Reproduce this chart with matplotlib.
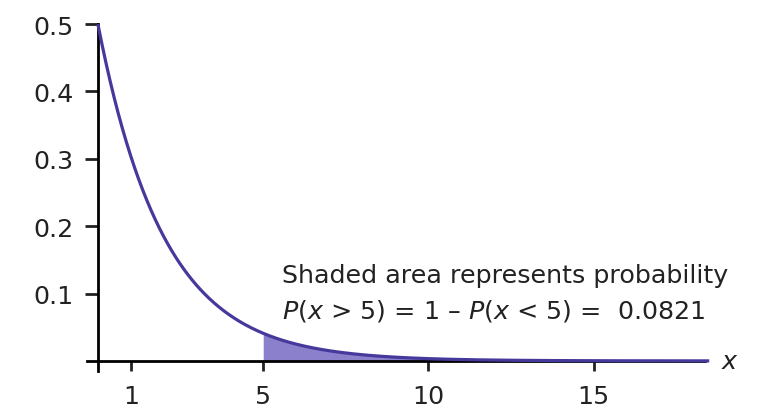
import numpy as np
import matplotlib.pyplot as plt

plt.rcParams['font.family'] = ['DejaVu Sans']
plt.rcParams['mathtext.fontset'] = 'custom'
plt.rcParams['mathtext.rm'] = 'DejaVu Sans'
plt.rcParams['mathtext.it'] = 'DejaVu Sans:italic'

# exponential distribution, decay rate m (f(0) = 0.5)
m = 0.5
x_cut = 5
x_end = 18.5
prob = 0.0821

y_ticks = [0.1, 0.2, 0.3, 0.4, 0.5]
y_labels = ['0.1', '0.2', '0.3', '0.4', '0.5']
x_ticks = [1, 5, 10, 15]
x_labels = ['1', '5', '10', '15']

line_col = '#46399c'
fill_col = '#8a80cc'
txt_col = '#222222'
fs = 18.3

fig = plt.figure(figsize=(7.61, 4.14), dpi=100)
ax = fig.add_axes([0.1143, 0.1014, 0.812, 0.838])

xs = np.linspace(0, x_end, 600)
ys = m * np.exp(-m * xs)
ax.plot(xs, ys, color=line_col, lw=2.3, solid_capstyle='butt', zorder=3, clip_on=False)
sel = xs >= x_cut
ax.fill_between(xs[sel], 0, ys[sel], color=fill_col, lw=0, zorder=2)

ax.set_xlim(-0.33, 18.37)
ax.set_ylim(-0.015, 0.5)

for s in ['top', 'right']:
    ax.spines[s].set_visible(False)
ax.spines['left'].set_position(('data', 0))
ax.spines['bottom'].set_position(('data', 0))
ax.spines['left'].set_linewidth(2)
ax.spines['bottom'].set_linewidth(2)

ax.set_yticks(y_ticks)
ax.set_yticklabels(y_labels)
ax.set_xticks(x_ticks)
ax.set_xticklabels(x_labels)
ax.tick_params(axis='y', direction='out', length=9.5, width=2, labelsize=fs, pad=8, colors=txt_col)
ax.tick_params(axis='x', direction='out', length=7, width=2, labelsize=fs, pad=9.5, colors=txt_col)

ax.text(18.85, 0, '$x$', fontsize=fs, ha='left', va='center', color=txt_col)

ax.text(5.57, 0.117, 'Shaded area represents probability', fontsize=fs,
        ha='left', va='baseline', color=txt_col)
ax.text(5.57, 0.065, '$P$($x$ > %d) = 1 \u2013 $P$($x$ < %d) =  %.4f' % (x_cut, x_cut, prob),
        fontsize=fs, ha='left', va='baseline', color=txt_col)

fig.savefig('out.png', dpi=100)
